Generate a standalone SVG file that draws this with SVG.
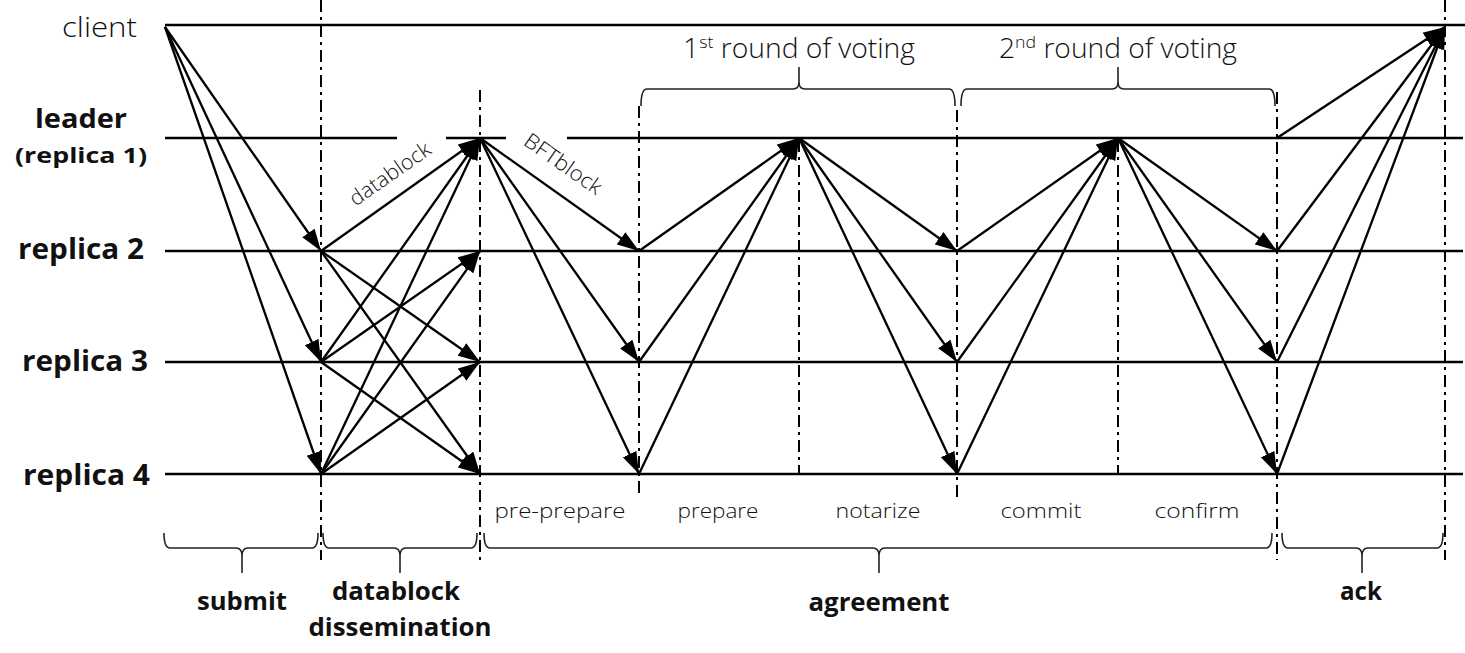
<svg xmlns="http://www.w3.org/2000/svg" width="1465" height="653" viewBox="0 0 1465 653">
<style>
.life{stroke:#000;stroke-width:2.5;fill:none}
.sep{stroke:#000;stroke-width:2;stroke-dasharray:12 5 3 5;fill:none}
.msg{stroke:#000;stroke-width:2.3;fill:none;marker-end:url(#ah)}
.brace{stroke:#222;stroke-width:1.6;fill:none}
.lbl{font-family:"Open Sans","Liberation Sans",sans-serif;font-weight:bold;fill:#111}
.lt{font-family:"Open Sans","Liberation Sans",sans-serif;font-weight:300;fill:#111}
</style>
<defs>
<marker id="ah" markerUnits="userSpaceOnUse" markerWidth="24" markerHeight="16" viewBox="0 0 24 16" refX="22" refY="8" orient="auto">
<path d="M0,0.5 L22,8 L0,15.5 z" fill="#000"/>
</marker>
</defs>
<rect width="1465" height="653" fill="#fff"/>

<g id="client">
<line class="life" x1="165" y1="25" x2="1465" y2="25"/>
<text class="lt" x="62" y="37" font-size="27" textLength="75" lengthAdjust="spacingAndGlyphs">client</text>
</g>
<g id="leader">
<path class="life" d="M165,138 H397 M446,138 H506 M567,138 H1463"/>
<text class="lbl" x="35" y="128" font-size="27" textLength="92" lengthAdjust="spacingAndGlyphs">leader</text>
<text class="lbl" x="15" y="163" font-size="22" textLength="132" lengthAdjust="spacingAndGlyphs">(replica 1)</text>
</g>
<g id="replica2">
<line class="life" x1="165" y1="251" x2="1463" y2="251"/>
<text class="lbl" x="18" y="259" font-size="28" textLength="126" lengthAdjust="spacingAndGlyphs">replica 2</text>
</g>
<g id="replica3">
<line class="life" x1="165" y1="362" x2="1463" y2="362"/>
<text class="lbl" x="22" y="371" font-size="28" textLength="126" lengthAdjust="spacingAndGlyphs">replica 3</text>
</g>
<g id="replica4">
<line class="life" x1="165" y1="474" x2="1463" y2="474"/>
<text class="lbl" x="23" y="485" font-size="28" textLength="127" lengthAdjust="spacingAndGlyphs">replica 4</text>
</g>

<g id="separators">
<line class="sep" x1="321" y1="0" x2="321" y2="560"/>
<line class="sep" x1="480" y1="90" x2="480" y2="562"/>
<line class="sep" x1="639" y1="106" x2="639" y2="497"/>
<line class="sep" x1="799" y1="140" x2="799" y2="473"/>
<line class="sep" x1="957" y1="110" x2="957" y2="497"/>
<line class="sep" x1="1118" y1="140" x2="1118" y2="473"/>
<line class="sep" x1="1277" y1="92" x2="1277" y2="560"/>
<line class="sep" x1="1445" y1="0" x2="1445" y2="560"/>
</g>

<g id="connectors">
<line class="msg" x1="165" y1="27" x2="321" y2="251"/>
<line class="msg" x1="165" y1="27" x2="321" y2="362"/>
<line class="msg" x1="165" y1="27" x2="321" y2="474"/>

<line class="msg" x1="321" y1="251" x2="480" y2="138"/>
<line class="msg" x1="321" y1="251" x2="480" y2="362"/>
<line class="msg" x1="321" y1="251" x2="480" y2="474"/>
<line class="msg" x1="321" y1="362" x2="480" y2="138"/>
<line class="msg" x1="321" y1="362" x2="480" y2="251"/>
<line class="msg" x1="321" y1="362" x2="480" y2="474"/>
<line class="msg" x1="321" y1="474" x2="480" y2="138"/>
<line class="msg" x1="321" y1="474" x2="480" y2="251"/>
<line class="msg" x1="321" y1="474" x2="480" y2="362"/>

<line class="msg" x1="480" y1="138" x2="639" y2="251"/>
<line class="msg" x1="480" y1="138" x2="639" y2="362"/>
<line class="msg" x1="480" y1="138" x2="639" y2="474"/>

<line class="msg" x1="639" y1="251" x2="799" y2="138"/>
<line class="msg" x1="639" y1="362" x2="799" y2="138"/>
<line class="msg" x1="639" y1="474" x2="799" y2="138"/>

<line class="msg" x1="799" y1="138" x2="957" y2="251"/>
<line class="msg" x1="799" y1="138" x2="957" y2="362"/>
<line class="msg" x1="799" y1="138" x2="957" y2="474"/>

<line class="msg" x1="957" y1="251" x2="1118" y2="138"/>
<line class="msg" x1="957" y1="362" x2="1118" y2="138"/>
<line class="msg" x1="957" y1="474" x2="1118" y2="138"/>

<line class="msg" x1="1118" y1="138" x2="1277" y2="251"/>
<line class="msg" x1="1118" y1="138" x2="1277" y2="362"/>
<line class="msg" x1="1118" y1="138" x2="1277" y2="474"/>

<line class="msg" x1="1277" y1="138" x2="1445" y2="27"/>
<line class="msg" x1="1277" y1="251" x2="1445" y2="27"/>
<line class="msg" x1="1277" y1="362" x2="1445" y2="27"/>
<line class="msg" x1="1277" y1="474" x2="1445" y2="27"/>

<text class="lt" font-size="21" text-anchor="middle" transform="translate(390,174) rotate(-35)" x="0" y="7" textLength="94" lengthAdjust="spacingAndGlyphs">datablock</text>
<text class="lt" font-size="21" text-anchor="middle" transform="translate(563,164) rotate(35)" x="0" y="7" textLength="90" lengthAdjust="spacingAndGlyphs">BFTblock</text>
</g>

<g id="top-braces">
<path class="brace" d="M641,106 Q641,89 647,89 L793,89 Q799,89 799,82 L799,67 M799,82 Q799,89 805,89 L949,89 Q955,89 955,106"/>
<path class="brace" d="M961,106 Q961,89 967,89 L1112,89 Q1118,89 1118,82 L1118,67 M1118,82 Q1118,89 1124,89 L1269,89 Q1275,89 1275,106"/>
<text class="lt" x="799" y="58" font-size="27" text-anchor="middle" textLength="232" lengthAdjust="spacingAndGlyphs">1<tspan font-size="17" dy="-10">st</tspan><tspan dy="10"> round of voting</tspan></text>
<text class="lt" x="1118" y="58" font-size="27" text-anchor="middle" textLength="238" lengthAdjust="spacingAndGlyphs">2<tspan font-size="17" dy="-10">nd</tspan><tspan dy="10"> round of voting</tspan></text>
</g>

<g id="phase-labels">
<text class="lt" x="560" y="518" font-size="21" text-anchor="middle" textLength="131" lengthAdjust="spacingAndGlyphs">pre-prepare</text>
<text class="lt" x="718" y="518" font-size="21" text-anchor="middle" textLength="81" lengthAdjust="spacingAndGlyphs">prepare</text>
<text class="lt" x="878" y="518" font-size="21" text-anchor="middle" textLength="85" lengthAdjust="spacingAndGlyphs">notarize</text>
<text class="lt" x="1041" y="518" font-size="21" text-anchor="middle" textLength="81" lengthAdjust="spacingAndGlyphs">commit</text>
<text class="lt" x="1197" y="518" font-size="21" text-anchor="middle" textLength="85" lengthAdjust="spacingAndGlyphs">confirm</text>
</g>

<g id="bottom-braces">
<path class="brace" d="M164,533 Q164,548 170,548 L236,548 Q242,548 242,556 L242,573 M242,556 Q242,548 248,548 L312,548 Q318,548 318,533"/>
<path class="brace" d="M323,533 Q323,548 329,548 L394,548 Q400,548 400,556 L400,573 M400,556 Q400,548 406,548 L471,548 Q477,548 477,533"/>
<path class="brace" d="M484,533 Q484,548 490,548 L873,548 Q879,548 879,556 L879,573 M879,556 Q879,548 885,548 L1266,548 Q1272,548 1272,533"/>
<path class="brace" d="M1282,533 Q1282,548 1288,548 L1356,548 Q1362,548 1362,556 L1362,573 M1362,556 Q1362,548 1368,548 L1437,548 Q1443,548 1443,533"/>
<text class="lbl" x="242" y="610" font-size="25" text-anchor="middle" textLength="90" lengthAdjust="spacingAndGlyphs">submit</text>
<text class="lbl" x="396" y="600" font-size="25" text-anchor="middle" textLength="128" lengthAdjust="spacingAndGlyphs">datablock</text>
<text class="lbl" x="400" y="636" font-size="25" text-anchor="middle" textLength="183" lengthAdjust="spacingAndGlyphs">dissemination</text>
<text class="lbl" x="879" y="611" font-size="25" text-anchor="middle" textLength="141" lengthAdjust="spacingAndGlyphs">agreement</text>
<text class="lbl" x="1361" y="600" font-size="25" text-anchor="middle" textLength="42" lengthAdjust="spacingAndGlyphs">ack</text>
</g>
</svg>
